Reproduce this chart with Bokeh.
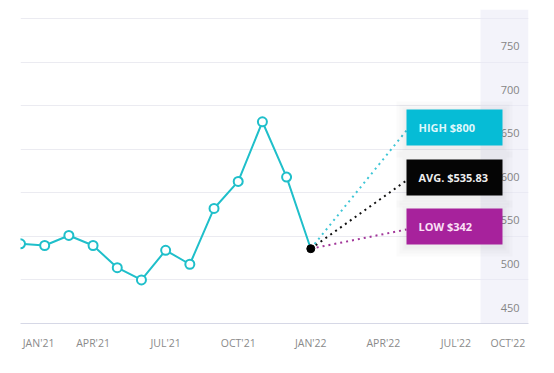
from bokeh.plotting import figure
from bokeh.models import FixedTicker, Range1d
from bokeh.core.properties import value
from bokeh.embed import file_html
from bokeh.resources import INLINE

# ---- data ----
months = list(range(13))  # JAN'21 .. JAN'22
prices = [541.5, 539.5, 551.0, 539.5, 514.0, 500.0, 534.0, 518.0, 582.0, 613.0, 681.5, 618.0, 535.83]
tick_positions = [0.75, 3, 6, 9, 12, 15, 18, 20.15]
tick_labels = ["JAN'21", "APR'21", "JUL'21", "OCT'21", "JAN'22", "APR'22", "JUL'22", "OCT'22"]
grid_values = [450, 500, 550, 600, 650, 700, 750, 800]
y_label_values = [450, 500, 550, 600, 650, 700, 750]
y_label_texts = [str(v) for v in y_label_values]
stat_texts = ["HIGH $800", "AVG. $535.83", "LOW $342"]

# ---- layout constants ----
FW, FH = 508, 314
X0, X1 = 0, 21
Y0, Y1 = 450, 450 + FH * 350 / 305.0
PX = FW / (X1 - X0)
PY = FH / (Y1 - Y0)

def dx(px):
    return X0 + px / PX

def dy(py):
    return Y1 - py / PY

box_colors = ["#06bcd6", "#050505", "#a7229c"]
text_colors = ["#dff7fb", "#eeeeee", "#fbe0f6"]
dot_colors = ["#3fc6d6", "#111111", "#a2379a"]
box_tops = [100, 150, 199]
box_h = 36
box_left, box_right = 386, 482

p = figure(frame_width=FW, frame_height=FH, output_backend="svg", toolbar_location=None,
           x_range=Range1d(X0, X1), y_range=Range1d(Y0, Y1), y_axis_location=None,
           min_border_left=20, min_border_right=18, min_border_top=9, min_border_bottom=40)
p.outline_line_color = None
p.background_fill_color = "white"
p.border_fill_color = "white"

# grid
p.xgrid.grid_line_color = None
p.ygrid.ticker = FixedTicker(ticks=grid_values)
p.ygrid.grid_line_color = "#ebebf1"
p.ygrid.grid_line_width = 1

# x axis
p.xaxis.ticker = FixedTicker(ticks=tick_positions)
p.xaxis.major_label_overrides = {t: l for t, l in zip(tick_positions, tick_labels)}
p.xaxis.axis_line_color = "#d6d8e6"
p.xaxis.major_tick_line_color = None
p.xaxis.minor_tick_line_color = None
p.xaxis.major_label_text_font = "Open Sans"
p.xaxis.major_label_text_font_size = "10.5px"
p.xaxis.major_label_text_color = "#8a8a8a"
p.xaxis.major_label_standoff = 6

# shaded future band
p.quad(left=dx(460), right=X1, bottom=Y0, top=Y1, fill_color="#e9e9f6", fill_alpha=0.55, line_color=None)

# y labels
p.text(x=[X1] * len(y_label_values), y=y_label_values, text=y_label_texts,
       x_offset=-9, y_offset=-16, text_align="right", text_baseline="middle",
       text_font=value("Open Sans"), text_font_size="11px", text_color="#858585")

# price line
p.line(months, prices, line_color="#1fbfca", line_width=2)
p.scatter(months[:-1], prices[:-1], size=9, marker="circle", fill_color="white",
          line_color="#1fbfca", line_width=2)

# dotted connectors
lx, ly = months[-1], prices[-1]
for i in range(3):
    cy = box_tops[i] + box_h / 2 + 3
    p.segment(x0=[lx], y0=[ly], x1=[dx(box_left)], y1=[dy(cy)],
              line_color=dot_colors[i], line_width=2, line_dash="2 4")

p.scatter([lx], [ly], size=8, marker="circle", fill_color="black", line_color="black")

# boxes with soft shadow
for i in range(3):
    t, b = box_tops[i], box_tops[i] + box_h
    for s in (10, 7, 4, 2):
        p.quad(left=dx(box_left - s), right=dx(box_right + s), top=dy(t - s + 2), bottom=dy(b + s + 2),
               fill_color="#000000", fill_alpha=0.014, line_color=None)
    p.quad(left=dx(box_left), right=dx(box_right), top=dy(t), bottom=dy(b),
           fill_color=box_colors[i], line_color=None)
    p.text(x=[dx(box_left + 12)], y=[dy(t + box_h / 2)], text=[stat_texts[i]],
           text_align="left", text_baseline="middle", text_font=value("Open Sans"),
           text_font_style="bold", text_font_size="11px", text_color=text_colors[i])

open("out.html", "w").write(file_html(p, INLINE))
